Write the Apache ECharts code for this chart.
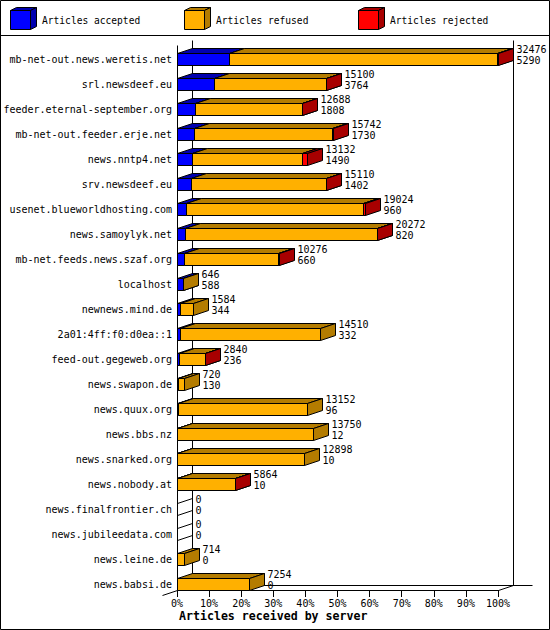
<!DOCTYPE html>
<html><head><meta charset="utf-8">
<script src="https://cdn.jsdelivr.net/npm/echarts@6/dist/echarts.min.js"></script>
<style>html,body{margin:0;padding:0;background:#fff}#c{width:550px;height:630px}</style>
</head><body><div id="c"></div>
<script>
const hosts = ['mb-net-out.news.weretis.net','srl.newsdeef.eu','feeder.eternal-september.org','mb-net-out.feeder.erje.net','news.nntp4.net','srv.newsdeef.eu','usenet.blueworldhosting.com','news.samoylyk.net','mb-net.feeds.news.szaf.org','localhost','newnews.mind.de','2a01:4ff:f0:d0ea::1','feed-out.gegeweb.org','news.swapon.de','news.quux.org','news.bbs.nz','news.snarked.org','news.nobody.at','news.finalfrontier.ch','news.jubileedata.com','news.leine.de','news.babsi.de'];
const totals   = [32476,15100,12688,15742,13132,15110,19024,20272,10276,646,1584,14510,2840,720,13152,13750,12898,5864,0,0,714,7254];
const accepted = [5290,3764,1808,1730,1490,1402,960,820,660,588,344,332,236,130,96,12,10,10,0,0,0,0];
const refused  = [27126,11296,10850,13972,11142,13678,17844,19412,9586,58,1240,14178,2584,590,13056,13738,12888,5834,0,0,714,7254];
const rejected = [60,40,30,40,500,30,220,40,30,0,0,0,20,0,0,0,0,20,0,0,0,0];
const tickLabels = ['0%','10%','20%','30%','40%','50%','60%','70%','80%','90%','100%'];
const legendNames = ['Articles accepted','Articles refused','Articles rejected'];
const axisTitle = 'Articles received by server';

const FRONT = ['#0000ff','#ffb000','#ff0000'];
const DARK  = ['#0000b0','#b47c00','#a80000'];
const DX = 15, DY = 5, HALF = 6;
const MONO = '"DejaVu Sans Mono", "Liberation Mono", monospace';
const maxTotal = Math.max.apply(null, totals);
const snap = v => Math.round(v) + 0.5;
const lineStyle = {stroke:'#000', lineWidth:1, fill:'none'};

function poly(points, fill){
  return {type:'polygon', shape:{points}, style:{fill, stroke:'#000', lineWidth:1}};
}

function renderBars(params, api){
  const i = api.value(0);
  const segs = [api.value(1), api.value(2), api.value(3)];
  const base = api.coord([0, i]);
  const yc = Math.floor(base[1]);
  const top = yc - HALF + 0.5, bot = yc + HALF + 0.5;
  const children = [];
  let cum = 0;
  let xEnd = snap(base[0]);
  const sum = segs[0] + segs[1] + segs[2];
  if (sum === 0) {
    const x0 = snap(base[0]);
    children.push(poly([[x0,top],[x0+DX,top-DY],[x0+DX,bot-DY],[x0,bot]], 'none'));
  }
  for (let k = 0; k < 3; k++) {
    const v = segs[k];
    if (v <= 0) continue;
    const xs = snap(api.coord([cum / maxTotal * 100, i])[0]);
    cum += v;
    const xe = snap(api.coord([cum / maxTotal * 100, i])[0]);
    children.push(poly([[xs,top],[xe,top],[xe,bot],[xs,bot]], FRONT[k]));
    children.push(poly([[xs,top],[xs+DX,top-DY],[xe+DX,top-DY],[xe,top]], DARK[k]));
    children.push(poly([[xe,top],[xe+DX,top-DY],[xe+DX,bot-DY],[xe,bot]], DARK[k]));
    xEnd = xe;
  }
  children.push({type:'text', style:{
    text: totals[i] + '\n' + accepted[i],
    x: xEnd + DX + 3, y: yc - 4,
    font: '10px ' + MONO, fill:'#000',
    align:'left', verticalAlign:'middle', lineHeight: 11
  }});
  return {type:'group', children};
}

function renderFrame(params, api){
  const cs = params.coordSys;
  const x = cs.x, y = cs.y, w = cs.width, h = cs.height;
  const L = (x1,y1,x2,y2) => ({type:'line', shape:{x1:snap(x1),y1:snap(y1),x2:snap(x2),y2:snap(y2)}, style:lineStyle});
  return {type:'group', children:[
    L(x, y-2, x, y+h-7),
    L(x+DX, y-2-DY, x+DX, y+h-7-DY),
    L(x+w+DX, y-2-DY, x+w+DX, y+h-7-DY),
    L(x+DX, y+h-7-DY, x+w+DX+19, y+h-7-DY),
    L(x, y+h-7, x+w, y+h-7),
    L(x-DX, y+h-7+DY, x, y+h-7),
    L(x+w, y+h-7, x+w+DX, y+h-7-DY)
  ]};
}

const legendX = [10, 184, 358];
const graphics = [
  {type:'rect', shape:{x:0.5,y:0.5,width:549,height:629}, style:{fill:'none',stroke:'#000',lineWidth:1}, z:100},
  {type:'line', shape:{x1:0,y1:35.5,x2:550,y2:35.5}, style:{stroke:'#000',lineWidth:1}}
];
legendNames.forEach((name, k) => {
  const lx = legendX[k] + 0.5, ty = 10.5, by = 29.5, rx = lx + 20, d = 6, u = 3;
  graphics.push({type:'polygon', shape:{points:[[lx,ty],[rx,ty],[rx,by],[lx,by]]}, style:{fill:FRONT[k],stroke:'#000',lineWidth:1}});
  graphics.push({type:'polygon', shape:{points:[[lx,ty],[lx+d,ty-u],[rx+d,ty-u],[rx,ty]]}, style:{fill:DARK[k],stroke:'#000',lineWidth:1}});
  graphics.push({type:'polygon', shape:{points:[[rx,ty],[rx+d,ty-u],[rx+d,by-u],[rx,by]]}, style:{fill:DARK[k],stroke:'#000',lineWidth:1}});
  graphics.push({type:'text', x: legendX[k] + 32, y: 20, style:{text:name, font:'9.6px ' + MONO, fill:'#000', verticalAlign:'middle'}});
});

const chart = echarts.init(document.getElementById('c'), null, {renderer:'svg'});
chart.setOption({
  animation:false,
  backgroundColor:'#fff',
  title:{text: axisTitle, left:179, top:610, padding:0,
    textStyle:{fontFamily:MONO, fontWeight:'bold', fontSize:11.6, color:'#000'}},
  grid:{left:177, right:52, top:47, bottom:33, containLabel:false},
  xAxis:{type:'value', min:0, max:100, interval:10,
    axisLine:{show:false}, splitLine:{show:false},
    axisTick:{show:true, inside:true, length:7, lineStyle:{color:'#000', width:1}},
    axisLabel:{margin:1, color:'#000', fontFamily:MONO, fontSize:10,
      formatter:(v) => tickLabels[Math.round(v/10)]}},
  yAxis:{type:'category', data:hosts, inverse:true,
    axisLine:{show:false}, axisTick:{show:false}, splitLine:{show:false},
    axisLabel:{interval:0, margin:5, color:'#000', fontFamily:MONO, fontSize:10}},
  graphic: graphics,
  series:[
    {type:'custom', name:'frame', coordinateSystem:'cartesian2d', clip:false, silent:true, z:1,
      data:[[0,0]], encode:{x:0,y:1}, renderItem: renderFrame},
    {type:'custom', name:'bars', coordinateSystem:'cartesian2d', clip:false, silent:true, z:2,
      data: hosts.map((h,i) => [i, accepted[i], refused[i], rejected[i]]),
      encode:{y:0, x:1}, renderItem: renderBars}
  ]
});
</script></body></html>
